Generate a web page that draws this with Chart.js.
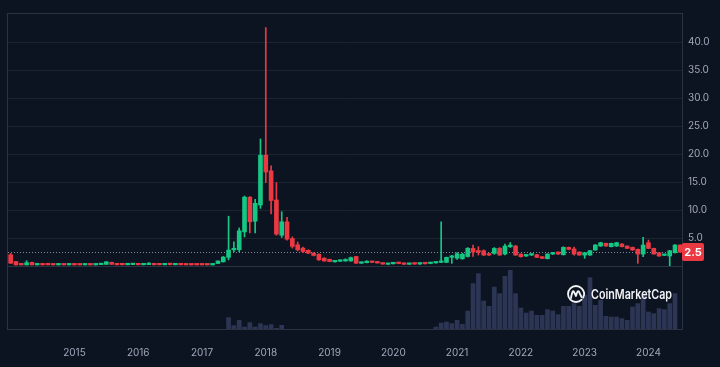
<!DOCTYPE html>
<html><head><meta charset="utf-8">
<script src="https://cdn.jsdelivr.net/npm/chart.js@4/dist/chart.umd.min.js"></script>
<style>html,body{margin:0;padding:0;background:#0d1421;overflow:hidden;}</style>
</head><body>
<canvas id="c" width="720" height="367"></canvas>
<script>
// ---- data (monthly candles, Jan 2014 – Jul 2024) ----
const startYear = 2014, endYear = 2024, endMonth = 7;
const months = [];
for (let y = startYear; y <= endYear; y++) {
  for (let m = 1; m <= 12; m++) {
    if (y === endYear && m > endMonth) break;
    months.push(y + '-' + String(m).padStart(2, '0'));
  }
}
const open = [2.0,0.8,0.45,0.2,0.65,0.2,0.45,0.3,0.25,0.2,
 0.27,0.2,0.28,0.25,0.2,0.25,0.2,0.25,0.3,0.65,
 0.32,0.3,0.22,0.25,0.32,0.22,0.25,0.32,0.3,0.22,
 0.3,0.22,0.3,0.28,0.27,0.27,0.25,0.25,0.2,0.45,
 0.75,1.55,2.9,2.9,6.1,12.3,8.0,10.9,19.8,17.0,
 11.8,5.5,7.9,4.9,3.8,3.2,2.8,2.3,2.1,1.4,
 1.2,0.75,0.85,0.9,0.9,1.7,0.5,0.6,0.75,0.8,
 0.55,0.3,0.4,0.55,0.5,0.3,0.5,0.35,0.5,0.45,
 0.55,0.65,0.65,1.55,1.4,1.3,1.7,3.15,2.6,2.74,
 2.2,2.26,3.15,2.14,3.45,3.57,2.14,1.79,1.96,2.02,
 1.67,1.31,2.14,2.5,2.02,3.33,3.05,2.5,1.96,1.96,
 2.86,3.57,4.05,3.45,3.57,3.93,3.57,3.33,2.98,2.14,
 4.17,3.15,2.38,1.9,1.79,2.38,3.75];
const high = [2.26,0.85,0.5,0.95,0.7,0.5,0.5,0.32,0.27,0.27,
 0.29,0.27,0.3,0.27,0.27,0.27,0.3,0.4,0.8,0.7,
 0.34,0.32,0.32,0.34,0.34,0.32,0.6,0.34,0.32,0.32,
 0.5,0.32,0.32,0.3,0.29,0.29,0.27,0.27,0.38,0.95,
 1.7,8.9,4.3,6.8,12.5,12.4,11.9,22.7,42.6,17.9,
 14.9,9.7,8.7,5.2,4.3,3.4,2.9,2.4,2.2,1.5,
 1.25,0.9,1.1,1.3,1.6,1.75,0.7,0.95,0.8,0.85,
 0.6,0.5,0.6,0.6,0.55,0.5,0.55,0.55,0.55,0.65,
 0.7,7.9,1.6,1.9,2.4,2.3,3.3,3.75,3.45,2.9,
 2.3,3.3,3.3,3.9,4.2,3.7,2.2,2.1,2.2,2.1,
 1.7,2.2,2.45,2.55,3.45,3.4,3.4,2.55,2.45,2.8,
 3.85,4.25,4.1,4.1,4.25,4.0,3.6,3.4,3.05,5.12,
 4.64,3.2,2.45,2.1,2.8,3.85,3.8];
const low = [0.45,0.15,0.18,0.18,0.18,0.18,0.18,0.18,0.18,0.18,
 0.18,0.18,0.18,0.18,0.18,0.18,0.18,0.22,0.28,0.28,
 0.2,0.2,0.2,0.23,0.2,0.2,0.23,0.2,0.2,0.2,
 0.2,0.2,0.2,0.18,0.18,0.18,0.18,0.18,0.18,0.4,
 0.7,1.1,2.5,2.55,5.2,5.9,5.9,10.3,14.9,9.3,
 5.5,5.1,4.6,3.2,2.7,2.4,2.2,1.8,1.0,0.85,
 0.75,0.7,0.8,0.85,0.85,0.45,0.45,0.55,0.6,0.5,
 0.3,0.28,0.35,0.4,0.28,0.28,0.3,0.3,0.35,0.4,
 0.5,0.6,0.6,0.48,1.2,1.2,1.6,1.7,1.96,1.85,
 1.85,2.1,1.9,2.0,3.3,1.9,1.6,1.7,1.85,1.5,
 1.3,1.25,2.05,2.05,1.95,2.9,1.96,1.9,1.37,1.9,
 2.8,3.5,3.5,3.4,3.5,3.4,3.1,2.8,0.48,1.67,
 3.1,2.1,1.7,1.85,0.05,2.3,2.4];
const close = [0.5,0.2,0.2,0.6,0.2,0.45,0.2,0.22,0.2,0.25,
 0.2,0.25,0.2,0.2,0.25,0.2,0.27,0.35,0.75,0.3,
 0.22,0.22,0.3,0.32,0.22,0.3,0.35,0.22,0.22,0.3,
 0.25,0.3,0.22,0.2,0.2,0.2,0.2,0.2,0.35,0.9,
 1.6,2.85,3.0,6.3,12.3,7.9,11.2,19.8,16.8,11.7,
 5.7,7.9,4.8,3.5,2.9,2.6,2.3,1.9,1.1,0.9,
 0.8,0.85,1.0,1.0,1.5,0.5,0.65,0.7,0.65,0.55,
 0.35,0.45,0.55,0.45,0.3,0.45,0.35,0.5,0.4,0.6,
 0.65,0.75,1.55,1.79,2.2,2.1,3.15,2.5,2.5,1.96,
 1.96,3.15,1.96,3.57,3.75,1.96,1.67,1.96,2.14,1.55,
 1.37,2.14,2.38,2.14,3.33,2.98,2.14,1.96,2.38,2.74,
 3.75,4.17,3.57,4.05,4.17,3.45,3.15,2.86,2.14,3.75,
 3.15,2.14,1.79,2.02,2.74,3.75,2.5];
const volume = [null,null,null,null,null,null,null,null,null,null,
 null,null,null,null,null,null,null,null,null,null,
 null,null,null,null,null,null,null,null,null,null,
 null,null,null,null,null,null,null,null,null,null,
 null,117,37,90,23,67,23,57,37,47,
 10,40,null,null,null,null,null,null,null,null,
 null,null,null,null,null,null,null,null,null,null,
 null,null,null,null,null,null,null,null,null,null,
 23,63,73,57,90,50,183,457,557,283,
 230,423,357,530,590,357,213,163,183,140,
 140,197,183,147,230,230,257,230,340,517,
 240,290,130,123,123,107,90,223,257,357,
 173,157,207,197,257,357,null];
const priceTicks = [0,5,10,15,20,25,30,35,40];
const priceMin = -11.25, priceMax = 45.2;   // lower part of the area is the volume pane
const volumePaneMax = 630;                   // volume that fills the lower pane

// ---- styles ----
const BG = '#0d1421', UP = '#16c784', DOWN = '#ea3943';
const GRID = '#1c2430', FRAME = '#2a3341', TEXT = '#a1a7bb', VOL = '#2d3554';
const FONT = 'Inter, "Noto Sans", sans-serif';
const colors = close.map((c, i) => c >= open[i] ? UP : DOWN);

const deco = {
  id: 'deco',
  beforeDraw(chart) {
    const c = chart.ctx;
    c.save(); c.fillStyle = BG; c.fillRect(0, 0, chart.width, chart.height); c.restore();
  },
  beforeDatasetsDraw(chart) {
    const c = chart.ctx, a = chart.chartArea, y = chart.scales.y;
    c.save();
    c.strokeStyle = FRAME; c.lineWidth = 1;
    c.strokeRect(Math.round(a.left) - 0.5, Math.round(a.top) + 0.5, Math.round(a.right - a.left), Math.round(a.bottom - a.top));
    const py = Math.round(y.getPixelForValue(close[close.length - 1])) + 0.5;
    c.strokeStyle = 'rgba(170,178,195,0.75)';
    c.setLineDash([1, 2]);
    c.beginPath(); c.moveTo(a.left, py); c.lineTo(a.right, py); c.stroke();
    c.restore();
  },
  afterDatasetsDraw(chart) {
    const c = chart.ctx;
    c.save();
    // CoinMarketCap watermark
    const cx = 576, cy = 294, r = 8;
    c.strokeStyle = '#f2f3f6'; c.lineWidth = 1.8; c.lineCap = 'round'; c.lineJoin = 'round';
    c.beginPath(); c.arc(cx, cy, r, 0.25 * Math.PI, 2.15 * Math.PI); c.stroke();
    c.beginPath();
    c.moveTo(cx - 5, cy + 4);
    c.quadraticCurveTo(cx - 3.5, cy - 5, cx - 2, cy - 2);
    c.lineTo(cx, cy + 2);
    c.quadraticCurveTo(cx + 2, cy - 6, cx + 3.5, cy - 1);
    c.lineTo(cx + 5.5, cy + 3);
    c.stroke();
    c.fillStyle = '#f2f3f6';
    c.font = '600 13px ' + FONT;
    c.textBaseline = 'middle'; c.textAlign = 'left';
    const t = 'CoinMarketCap';
    const w = c.measureText(t).width;
    c.save(); c.translate(591, cy); c.scale(81 / w, 1); c.fillText(t, 0, 1); c.restore();
    c.restore();
  },
  afterDraw(chart) {
    const c = chart.ctx, a = chart.chartArea, y = chart.scales.y;
    const last = close[close.length - 1];
    const py = y.getPixelForValue(last);
    c.save();
    c.fillStyle = DOWN;
    const bx = a.right - 1, bw = 22, bh = 18;
    c.beginPath();
    if (c.roundRect) c.roundRect(bx, py - bh / 2, bw, bh, 2); else c.rect(bx, py - bh / 2, bw, bh);
    c.fill();
    c.fillStyle = '#ffffff';
    c.font = 'bold 11px ' + FONT;
    c.textAlign = 'center'; c.textBaseline = 'middle';
    c.fillText(last.toFixed(1), bx + bw / 2, py + 0.5);
    c.restore();
  }
};

new Chart(document.getElementById('c'), {
  type: 'bar',
  data: {
    labels: months,
    datasets: [
      { label: 'Volume', data: volume, yAxisID: 'yv', backgroundColor: VOL,
        grouped: false, barPercentage: 0.88, categoryPercentage: 1, order: 3 },
      { label: 'Wick', data: high.map((h, i) => [low[i], h]), yAxisID: 'y',
        backgroundColor: colors, barThickness: 1, grouped: false, order: 2 },
      { label: 'Body', data: open.map((o, i) => [o, close[i]]), yAxisID: 'y',
        backgroundColor: colors, barThickness: 4, minBarLength: 1.5, grouped: false, order: 1 }
    ]
  },
  options: {
    responsive: false, animation: false, devicePixelRatio: 1,
    layout: { padding: { left: 8, top: 13, right: 0, bottom: 0 } },
    plugins: { legend: { display: false }, tooltip: { enabled: false } },
    scales: {
      x: {
        grid: { display: false }, border: { display: false },
        ticks: {
          autoSkip: false, maxRotation: 0, minRotation: 0, color: TEXT, padding: 10,
          font: { family: FONT, size: 10 },
          callback: (v, i) => {
            const l = months[i];
            return (l.endsWith('-01') && !l.startsWith(String(startYear))) ? l.slice(0, 4) : '';
          }
        },
        afterFit: s => { s.height = 38; }
      },
      y: {
        position: 'right', min: priceMin, max: priceMax,
        grid: { color: ctx => (ctx.tick && ctx.tick.value === 0) ? FRAME : GRID, drawTicks: false },
        border: { display: false },
        afterBuildTicks: s => { s.ticks = priceTicks.map(v => ({ value: v })); },
        ticks: { color: TEXT, padding: 5, font: { family: FONT, size: 10 },
          callback: v => v === 0 ? '' : Number(v).toFixed(1) },
        afterFit: s => { s.width = 37; }
      },
      yv: {
        display: false, min: 0,
        max: volumePaneMax * (priceMax - priceMin) / (0 - priceMin)
      }
    }
  },
  plugins: [deco]
});
</script>
</body></html>
